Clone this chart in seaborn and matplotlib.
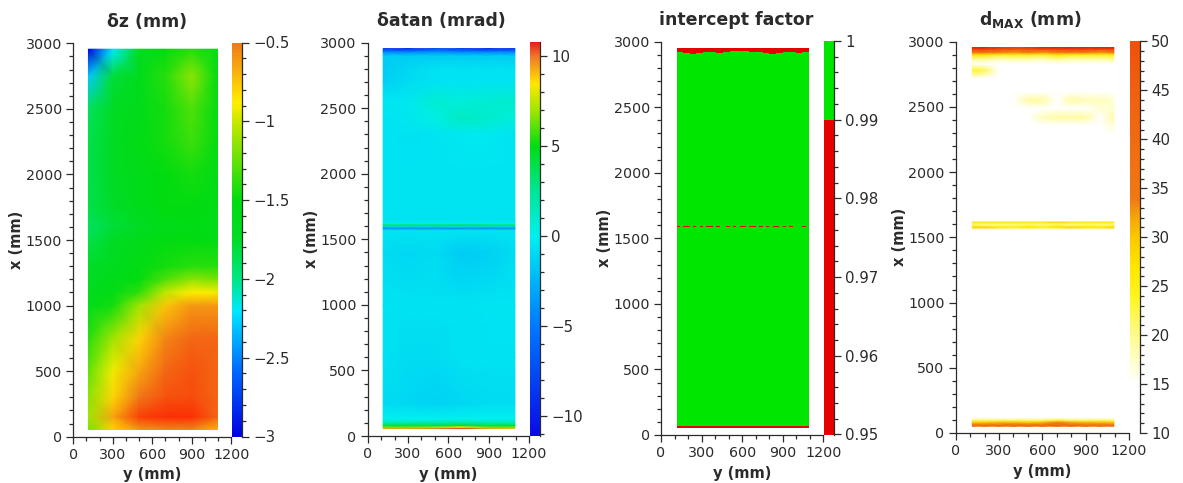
import numpy as np
import matplotlib
matplotlib.use("Agg")
import matplotlib.pyplot as plt
import seaborn as sns
from matplotlib.colors import LinearSegmentedColormap, ListedColormap, BoundaryNorm, Normalize
from matplotlib.ticker import MultipleLocator, FuncFormatter

# ---------------- data ----------------
TITLES = ["δz (mm)", "δatan (mrad)", "intercept factor", r"d$_{\mathbf{MAX}}$ (mm)"]

# common y positions (mm) of the sampled columns
Y_COLS = [115, 300, 500, 700, 900, 1095]

# panel 1 : delta z (mm)
DZ_X_ROWS = [55, 150, 300, 500, 750, 1000, 1100, 1200, 1300, 1500, 1600, 1750, 2000, 2250, 2500, 2750, 2955]
DZ_VALUES = [
    [-1.20, -0.80, -0.60, -0.55, -0.55, -0.70],
    [-1.10, -0.65, -0.35, -0.30, -0.30, -0.45],
    [-1.15, -0.80, -0.50, -0.40, -0.38, -0.45],
    [-1.25, -0.92, -0.65, -0.45, -0.40, -0.45],
    [-1.40, -1.10, -0.80, -0.55, -0.45, -0.45],
    [-1.60, -1.45, -1.10, -0.75, -0.60, -0.60],
    [-1.65, -1.55, -1.38, -1.02, -0.88, -0.90],
    [-1.70, -1.60, -1.50, -1.30, -1.15, -1.20],
    [-1.75, -1.65, -1.55, -1.45, -1.40, -1.40],
    [-1.85, -1.70, -1.60, -1.50, -1.50, -1.55],
    [-1.90, -1.80, -1.70, -1.60, -1.55, -1.60],
    [-1.85, -1.75, -1.60, -1.50, -1.50, -1.55],
    [-1.85, -1.70, -1.60, -1.50, -1.45, -1.55],
    [-1.85, -1.70, -1.55, -1.45, -1.35, -1.50],
    [-1.90, -1.70, -1.60, -1.45, -1.30, -1.50],
    [-2.30, -1.80, -1.60, -1.40, -1.15, -1.50],
    [-3.00, -2.20, -1.70, -1.50, -1.40, -1.60],
]

# panel 2 : delta atan (mrad)
DA_X_ROWS = [57, 68, 82, 100, 130, 250, 600, 1000, 1400, 1570, 1586, 1598, 1610, 1624, 1640,
             2000, 2300, 2420, 2550, 2700, 2800, 2900, 2932, 2955]
DA_VALUES = [
    [9.5, 9.5, 10.0, 10.8, 9.5, 9.0],
    [6.5, 6.5, 7.0, 8.5, 6.5, 6.5],
    [4.0, 4.0, 4.0, 4.5, 4.0, 4.0],
    [2.0, 2.0, 2.2, 2.5, 2.0, 2.0],
    [0.0, 0.0, 0.0, 0.0, 0.0, 0.0],
    [-0.8, -1.0, -1.2, -1.0, -0.8, -0.8],
    [-0.6, -0.8, -0.8, -0.6, -0.6, -0.6],
    [-0.5, -0.6, -0.6, -0.6, -0.5, -0.5],
    [-0.8, -1.0, -0.8, -1.5, -1.3, -0.8],
    [-0.5, -0.5, -0.5, -0.5, -0.5, -0.5],
    [-4.0, -4.0, -4.0, -4.0, -4.0, -4.0],
    [-1.0, -1.0, -1.0, -1.0, -1.0, -1.0],
    [3.5, 3.5, 3.5, 4.0, 3.5, 3.5],
    [0.0, 0.0, 0.0, 0.0, 0.0, 0.0],
    [-0.5, -0.5, -0.5, -0.5, -0.5, -0.5],
    [-0.5, -0.5, -0.5, -0.5, -0.5, -0.5],
    [-0.5, -0.6, -0.5, -0.3, -0.3, -0.5],
    [-0.5, -0.4, 0.3, 1.3, 1.0, 0.5],
    [-0.4, -0.3, 0.8, 0.6, 0.8, 1.0],
    [-1.3, -0.8, -0.5, -0.5, -0.5, -0.5],
    [-1.5, -1.0, -0.6, -0.6, -0.6, -0.6],
    [-1.5, -1.5, -1.5, -1.5, -1.5, -1.5],
    [-4.5, -4.5, -4.0, -4.5, -4.5, -4.5],
    [-8.5, -9.5, -7.5, -8.5, -9.5, -8.5],
]

# panel 3 : intercept factor (two levels: >= 0.99 green, < 0.99 red)
IF_GOOD, IF_BAD = 0.999, 0.97
IF_BOTTOM_BAND = [55, 72]            # red band near x = 0
IF_MID_BAND = [1588, 1597]           # dotted red line
IF_MID_DOTS = [1, 0, 1, 1, 0, 1, 0, 1, 0, 1, 1, 0, 1, 0, 0, 1, 0, 1, 0, 1,
               1, 0, 1, 1, 0, 1, 0, 1, 0, 1, 1, 0, 1, 0, 1, 0, 0, 0, 1, 0]
IF_TOP = 2955
IF_TOP_EDGE = [2925, 2915, 2905, 2912, 2925, 2920, 2915, 2922, 2928, 2930,
               2928, 2925, 2922, 2915, 2905, 2912, 2922, 2918, 2908, 2918]

# panel 4 : d_MAX (mm)
DM_Y_COLS = [115, 200, 300, 400, 500, 600, 700, 800, 900, 1000, 1095]
DM_X_ROWS = [52, 65, 82, 100, 120, 1560, 1578, 1590, 1605, 1615, 1630, 2150, 2220, 2290,
             2360, 2420, 2490, 2550, 2620, 2720, 2780, 2830, 2870, 2900, 2920, 2940, 2955]
DM_VALUES = [
    [38, 38, 38, 40, 40, 40, 42, 40, 38, 38, 38],
    [36, 36, 36, 38, 37, 38, 40, 38, 36, 36, 36],
    [30, 30, 31, 31, 30, 31, 34, 32, 31, 31, 30],
    [21, 21, 21, 21, 21, 21, 23, 21, 21, 21, 21],
    [11, 11, 11, 11, 11, 11, 11, 11, 11, 11, 11],
    [11, 11, 11, 11, 11, 11, 11, 11, 11, 11, 11],
    [29, 29, 27, 25, 27, 25, 27, 29, 27, 27, 29],
    [24, 22, 22, 22, 24, 22, 25, 22, 24, 22, 24],
    [20, 20, 20, 20, 20, 20, 20, 20, 20, 20, 20],
    [27, 27, 27, 27, 27, 27, 29, 27, 27, 27, 27],
    [11, 11, 11, 11, 11, 11, 11, 11, 11, 11, 11],
    [11, 11, 11, 11, 11, 11, 11, 11, 11, 11, 11],
    [11, 11, 11, 14, 11, 11, 11, 11, 11, 11, 11],
    [11, 11, 11, 11, 11, 11, 11, 11, 11, 11, 11],
    [12, 12, 12, 12, 12, 12, 12, 12, 12, 12, 17],
    [12, 12, 12, 12, 12, 18, 19, 19, 19, 15, 19],
    [12, 12, 12, 12, 12, 12, 14, 14, 14, 17, 17],
    [12, 12, 12, 12, 19, 19, 12, 19, 18, 18, 17],
    [12, 12, 12, 12, 12, 12, 12, 12, 12, 13, 13],
    [14, 14, 14, 13, 13, 13, 13, 13, 13, 13, 13],
    [24, 22, 15, 14, 14, 14, 14, 14, 14, 14, 14],
    [15, 15, 15, 15, 15, 15, 15, 15, 15, 15, 15],
    [20, 20, 18, 19, 19, 18, 20, 19, 19, 19, 20],
    [27, 27, 25, 25, 25, 24, 27, 25, 25, 25, 25],
    [37, 37, 34, 33, 35, 33, 35, 35, 35, 33, 35],
    [50, 50, 47, 45, 45, 47, 48, 50, 50, 48, 48],
    [55, 55, 53, 52, 53, 55, 55, 56, 56, 55, 55],
]

# colour bar ranges
DZ_RANGE, DA_RANGE, IF_RANGE, DM_RANGE = (-3, -0.5), (-11.1, 10.8), (0.95, 1.0), (10, 50)

# ---------------- style ----------------
sns.set_theme(style="ticks")
plt.rcParams["font.family"] = ["DejaVu Sans"]
plt.rcParams["mathtext.fontset"] = "dejavusans"
TXT = "#2b2b2b"


def make_cmap(name, stops, vmin, vmax):
    vals, cols = zip(*stops)
    pos = [(v - vmin) / (vmax - vmin) for v in vals]
    return LinearSegmentedColormap.from_list(name, list(zip(pos, cols)), N=512)


cmap_dz = make_cmap("dz", [(-3.0, "#0000e0"), (-2.6, "#0064ff"), (-2.2, "#00e8ff"), (-2.0, "#00e682"),
                           (-1.75, "#00dc28"), (-1.5, "#00dc10"), (-1.05, "#b4e600"), (-0.88, "#ffee00"),
                           (-0.5, "#f07818"), (-0.25, "#ff1e00")], -3.0, -0.25)
norm_dz = Normalize(-3.0, -0.25)

cmap_da = make_cmap("da", [(-11.1, "#0a0ae6"), (-5, "#0078ff"), (0, "#00f0f0"), (2.5, "#00e696"),
                           (5, "#00dc14"), (7, "#a0e600"), (8.5, "#ffe600"), (10, "#f07828"),
                           (10.8, "#e61e1e")], -11.1, 10.8)
norm_da = Normalize(*DA_RANGE)

cmap_if = ListedColormap(["#e60000", "#00e600"])
norm_if = BoundaryNorm([0.95, 0.99, 1.0], 2)

cmap_dm = make_cmap("dm", [(10, "#ffffff"), (15, "#ffffff"), (17, "#ffffd2"), (20, "#fffa8c"),
                           (24, "#fff51e"), (27, "#ffe600"), (30, "#fac800"), (32, "#f5a50a"),
                           (34, "#f07814"), (45, "#f0600f"), (50, "#f0500a"), (55, "#e61400")], 10, 55)
norm_dm = Normalize(10, 55)

W, H = 1183, 483
fig = plt.figure(figsize=(W / 100, H / 100), dpi=100)


def rect(l, r, t, b):
    return [l / W, 1 - b / H, (r - l) / W, (b - t) / H]


AX_RECTS = [rect(73.3, 231.3, 43.3, 436.7), rect(367.7, 529, 42.7, 436),
            rect(661, 823.3, 41.7, 435), rect(955.7, 1129, 41.7, 433)]
CB_RECTS = [rect(232, 242, 42.5, 436.5), rect(530, 540, 42, 436),
            rect(824, 834, 41, 434.5), rect(1130, 1140, 41.5, 433)]
TITLE_X = [0.465, 0.455, 0.462, 0.43]

fmt = FuncFormatter(lambda v, p: f"{v:g}".replace("-", "\u2212"))


def style_axes(ax, i):
    ax.set_xlim(0, 1200)
    ax.set_ylim(0, 3000)
    ax.xaxis.set_major_locator(MultipleLocator(300))
    ax.xaxis.set_minor_locator(MultipleLocator(100))
    ax.yaxis.set_major_locator(MultipleLocator(500))
    ax.yaxis.set_minor_locator(MultipleLocator(100))
    sns.despine(ax=ax)
    for s in ("left", "bottom"):
        ax.spines[s].set_color(TXT)
        ax.spines[s].set_linewidth(0.9)
    ax.tick_params(which="both", direction="out", color=TXT, labelcolor=TXT, labelsize=10.3, width=0.9)
    ax.tick_params(which="major", length=5, pad=3)
    ax.tick_params(which="minor", length=3)
    ax.set_xlabel("y (mm)", fontweight="bold", fontsize=10.5, color=TXT, labelpad=4)
    ax.set_ylabel("x (mm)", fontweight="bold", fontsize=10.5, color=TXT, labelpad=1)
    ax.set_title(TITLES[i], fontweight="bold", fontsize=12.5, color=TXT, pad=12, x=TITLE_X[i])
    ax.set_facecolor("white")


def style_cbar(cb, major, minor):
    cb.outline.set_visible(False)
    cax = cb.ax
    cax.spines["right"].set_visible(True)
    cax.spines["right"].set_color(TXT)
    cax.spines["right"].set_linewidth(0.9)
    cb.locator = MultipleLocator(major)
    cb.minorlocator = MultipleLocator(minor)
    cb.formatter = fmt
    cb.update_ticks()
    cax.tick_params(which="both", direction="out", color=TXT, labelcolor=TXT, labelsize=10.8, width=0.9)
    cax.tick_params(which="major", length=5, pad=3)
    cax.tick_params(which="minor", length=3)


axes = [fig.add_axes(r) for r in AX_RECTS]
caxes = [fig.add_axes(r) for r in CB_RECTS]

# panel 1
YY, XX = np.meshgrid(Y_COLS, DZ_X_ROWS)
m1 = axes[0].pcolormesh(YY, XX, np.array(DZ_VALUES), shading="gouraud", cmap=cmap_dz, norm=norm_dz)
cb1 = fig.colorbar(m1, cax=caxes[0], boundaries=np.linspace(DZ_RANGE[0], DZ_RANGE[1], 257))
style_cbar(cb1, 0.5, 0.1)

# panel 2
YY, XX = np.meshgrid(Y_COLS, DA_X_ROWS)
m2 = axes[1].pcolormesh(YY, XX, np.array(DA_VALUES), shading="gouraud", cmap=cmap_da, norm=norm_da)
cb2 = fig.colorbar(m2, cax=caxes[1])
style_cbar(cb2, 5, 1)

# panel 3
n_cols = len(IF_MID_DOTS)
y_edges = np.linspace(Y_COLS[0], Y_COLS[-1], n_cols + 1)
top_rows = list(range(2895, IF_TOP, 5)) + [IF_TOP]
x_edges = [IF_BOTTOM_BAND[0], IF_BOTTOM_BAND[1], IF_MID_BAND[0], IF_MID_BAND[1]] + top_rows
top_edge = np.repeat(IF_TOP_EDGE, n_cols // len(IF_TOP_EDGE))
grid = [np.full(n_cols, IF_BAD), np.full(n_cols, IF_GOOD),
        np.where(np.array(IF_MID_DOTS) == 1, IF_BAD, IF_GOOD), np.full(n_cols, IF_GOOD)]
for lo in top_rows[:-1]:
    grid.append(np.where(lo + 2.5 >= top_edge, IF_BAD, IF_GOOD))
m3 = axes[2].pcolormesh(y_edges, x_edges, np.array(grid), shading="flat", cmap=cmap_if, norm=norm_if)
cb3 = fig.colorbar(m3, cax=caxes[2], spacing="proportional")
style_cbar(cb3, 0.01, 0.002)

# panel 4
YY, XX = np.meshgrid(DM_Y_COLS, DM_X_ROWS)
m4 = axes[3].pcolormesh(YY, XX, np.array(DM_VALUES, dtype=float), shading="gouraud", cmap=cmap_dm, norm=norm_dm)
cb4 = fig.colorbar(m4, cax=caxes[3], boundaries=np.linspace(DM_RANGE[0], DM_RANGE[1], 257))
style_cbar(cb4, 5, 1)

for i, ax in enumerate(axes):
    style_axes(ax, i)

fig.savefig("out.png", dpi=100)
